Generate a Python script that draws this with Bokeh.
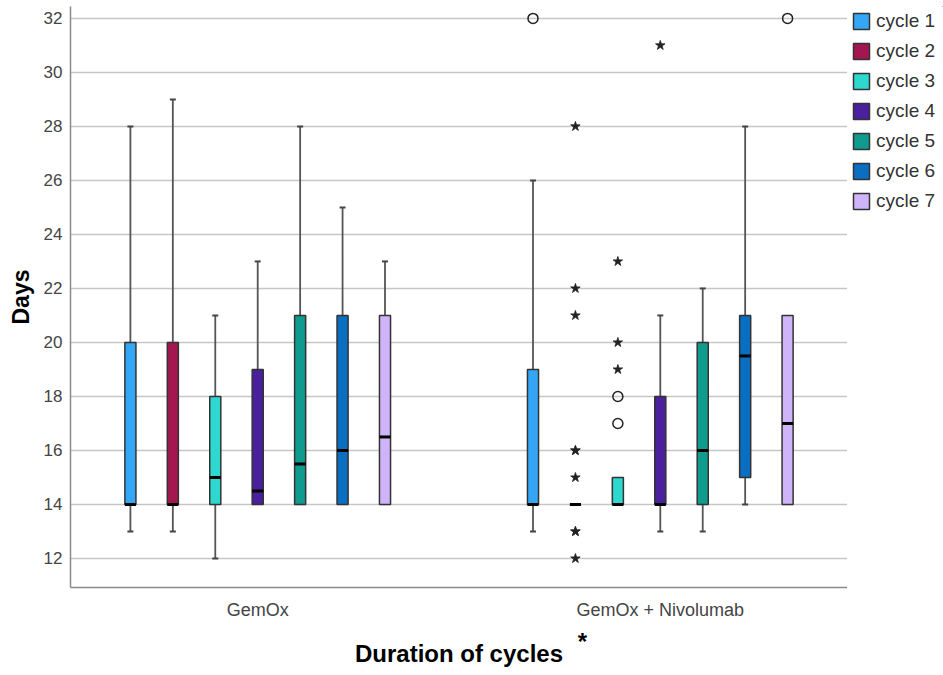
from bokeh.plotting import figure
from bokeh.layouts import row
from bokeh.models import (FactorRange, Range1d, Legend, LegendItem,
                          SingleIntervalTicker, ColumnDataSource)
from bokeh.transform import dodge
from bokeh.embed import file_html
from bokeh.resources import INLINE

# ---------------- data ----------------
groups = ["GemOx", "GemOx + Nivolumab"]
cycles = ["cycle 1", "cycle 2", "cycle 3", "cycle 4", "cycle 5", "cycle 6", "cycle 7"]
colors = ["#33A7F5", "#A3164F", "#2DD8CF", "#4B209E", "#0F9B8E", "#0A6FC2", "#CFB4FA"]

# box-plot statistics per cycle (cycle 1 .. cycle 7)
gemox_low = [13, 13, 12, 14, 14, 14, 14]
gemox_q1 = [14, 14, 14, 14, 14, 14, 14]
gemox_med = [14, 14, 15, 14.5, 15.5, 16, 16.5]
gemox_q3 = [20, 20, 18, 19, 21, 21, 21]
gemox_high = [28, 29, 21, 23, 28, 25, 23]

nivo_low = [13, 14, 14, 13, 13, 14, 14]
nivo_q1 = [14, 14, 14, 14, 14, 15, 14]
nivo_med = [14, 14, 14, 14, 16, 19.5, 17]
nivo_q3 = [19, 14, 15, 18, 20, 21, 21]
nivo_high = [26, 14, 15, 21, 22, 28, 21]

# outliers (GemOx + Nivolumab group)
out_group = ["GemOx + Nivolumab"] * 17
out_cycle = ["cycle 1",
             "cycle 2", "cycle 2", "cycle 2", "cycle 2", "cycle 2", "cycle 2", "cycle 2", "cycle 2", "cycle 2",
             "cycle 3", "cycle 3", "cycle 3", "cycle 3", "cycle 3",
             "cycle 4",
             "cycle 7"]
out_value = [32,
             28, 22, 21, 16, 16, 15, 13, 13, 12,
             23, 20, 19, 18, 17,
             31,
             32]
out_kind = ["circle",
            "star", "star", "star", "star", "star", "star", "star", "star", "star",
            "star", "star", "star", "circle", "circle",
            "star",
            "circle"]

x_title = "Duration of cycles"
x_title_mark = "*"

# ---------------- figure ----------------
FONT = "Liberation Sans"
SPACING = 0.1054
BOX_W = 0.0275

p = figure(width=847, height=675,
           x_range=FactorRange(*groups, range_padding=-0.035, range_padding_units="absolute"),
           y_range=Range1d(10.926, 32.44),
           output_backend="svg", toolbar_location=None,
           min_border_left=70, min_border_right=0, min_border_top=6, min_border_bottom=88)
p.background_fill_color = "white"
p.border_fill_color = "white"
p.outline_line_color = None

p.xgrid.grid_line_color = None
p.ygrid.grid_line_color = "#c6c6c6"
p.ygrid.grid_line_width = 1.5

for ax in (p.xaxis[0], p.yaxis[0]):
    ax.major_tick_line_color = None
    ax.minor_tick_line_color = None
    ax.major_tick_out = 0
    ax.major_tick_in = 0
    ax.minor_tick_out = 0
    ax.minor_tick_in = 0
    ax.axis_line_color = "#8a8a8a"
    ax.axis_line_width = 1.5
    ax.major_label_text_font = FONT
    ax.major_label_text_color = "#444444"
    ax.axis_label_text_font = FONT
    ax.axis_label_text_font_size = "23px"
    ax.axis_label_text_font_style = "bold"
    ax.axis_label_text_color = "black"

p.yaxis.major_label_text_font_size = "17px"
p.xaxis.major_label_text_font_size = "18px"
p.yaxis.ticker = SingleIntervalTicker(interval=2)
p.yaxis.axis_label = "Days"
p.yaxis.axis_label_standoff = 7
p.yaxis.major_label_standoff = 8
p.xaxis.major_label_standoff = 12

# x title: superscript asterisk line (shifted right with no-break spaces) above the title line
p.xaxis.axis_label = "\u00a0" * 37 + x_title_mark + "\n" + x_title
p.xaxis.axis_label_text_font_size = "24px"
p.xaxis.axis_label_text_line_height = 0.48
p.xaxis.axis_label_standoff = 5

for k, cyc in enumerate(cycles):
    off = (k - 3) * SPACING
    src = ColumnDataSource(dict(
        group=groups,
        low=[gemox_low[k], nivo_low[k]],
        q1=[gemox_q1[k], nivo_q1[k]],
        med=[gemox_med[k], nivo_med[k]],
        q3=[gemox_q3[k], nivo_q3[k]],
        high=[gemox_high[k], nivo_high[k]],
    ))
    xs = dodge("group", off, range=p.x_range)
    # whiskers
    p.segment(x0=xs, x1=xs, y0="q3", y1="high", source=src, line_color="#555555", line_width=1.8)
    p.segment(x0=xs, x1=xs, y0="low", y1="q1", source=src, line_color="#555555", line_width=1.8)
    # caps (only where whisker extends beyond the box)
    cap_g, cap_y = [], []
    for gi, g in enumerate(groups):
        lows = [gemox_low, nivo_low][gi]
        q1s = [gemox_q1, nivo_q1][gi]
        q3s = [gemox_q3, nivo_q3][gi]
        highs = [gemox_high, nivo_high][gi]
        if highs[k] > q3s[k]:
            cap_g.append(g); cap_y.append(highs[k])
        if lows[k] < q1s[k]:
            cap_g.append(g); cap_y.append(lows[k])
    cap_src = ColumnDataSource(dict(group=cap_g, y=cap_y))
    p.scatter(x=dodge("group", off, range=p.x_range), y="y", source=cap_src,
              marker="dash", size=6, line_color="#444444", line_width=2)
    # box
    p.vbar(x=xs, width=BOX_W, bottom="q1", top="q3", source=src,
           fill_color=colors[k], line_color="#333333", line_width=1.5)
    # median
    p.segment(x0=dodge("group", off - BOX_W / 2, range=p.x_range),
              x1=dodge("group", off + BOX_W / 2, range=p.x_range),
              y0="med", y1="med", source=src, line_color="black", line_width=3)

    # outliers of this cycle
    for kind in ("circle", "star"):
        og = [g for g, c, t in zip(out_group, out_cycle, out_kind) if c == cyc and t == kind]
        ov = [v for v, c, t in zip(out_value, out_cycle, out_kind) if c == cyc and t == kind]
        if not og:
            continue
        osrc = ColumnDataSource(dict(group=og, y=ov))
        if kind == "circle":
            p.scatter(x=dodge("group", off, range=p.x_range), y="y", source=osrc,
                      marker="circle", size=10, fill_color=None, line_color="#222222", line_width=1.5)
        else:
            p.scatter(x=dodge("group", off, range=p.x_range), y="y", source=osrc,
                      marker="star", size=10, fill_color="#222222", line_color="#222222", line_width=0.8)

# ---------------- legend panel (separate narrow figure to the right) ----------------
pl = figure(width=96, height=675, output_backend="svg", toolbar_location=None,
            x_range=(0, 1), y_range=(0, 1),
            min_border_left=0, min_border_right=0, min_border_top=6, min_border_bottom=0)
pl.axis.visible = False
pl.grid.visible = False
pl.outline_line_color = None
pl.background_fill_color = "white"
pl.border_fill_color = "white"

legend_items = []
for k, cyc in enumerate(cycles):
    # legend proxy: the cycle's GemOx box, lying outside this panel's visible 0..1 range
    proxy_src = ColumnDataSource(dict(x=[gemox_q3[k]], bottom=[gemox_q1[k]], top=[gemox_q3[k]]))
    proxy = pl.vbar(x="x", bottom="bottom", top="top", width=0.1, source=proxy_src,
                    fill_color=colors[k], line_color="#333333", line_width=1.5)
    legend_items.append(LegendItem(label=cyc, renderers=[proxy]))

legend = Legend(items=legend_items, location="top_left",
                padding=4, margin=0, spacing=8,
                glyph_width=20, glyph_height=20, label_height=20,
                label_standoff=5,
                label_text_font=FONT, label_text_font_size="19px", label_text_color="#333333",
                border_line_alpha=0, background_fill_alpha=0)
pl.add_layout(legend)

layout = row(p, pl)
open("out.html", "w").write(file_html(layout, INLINE))
